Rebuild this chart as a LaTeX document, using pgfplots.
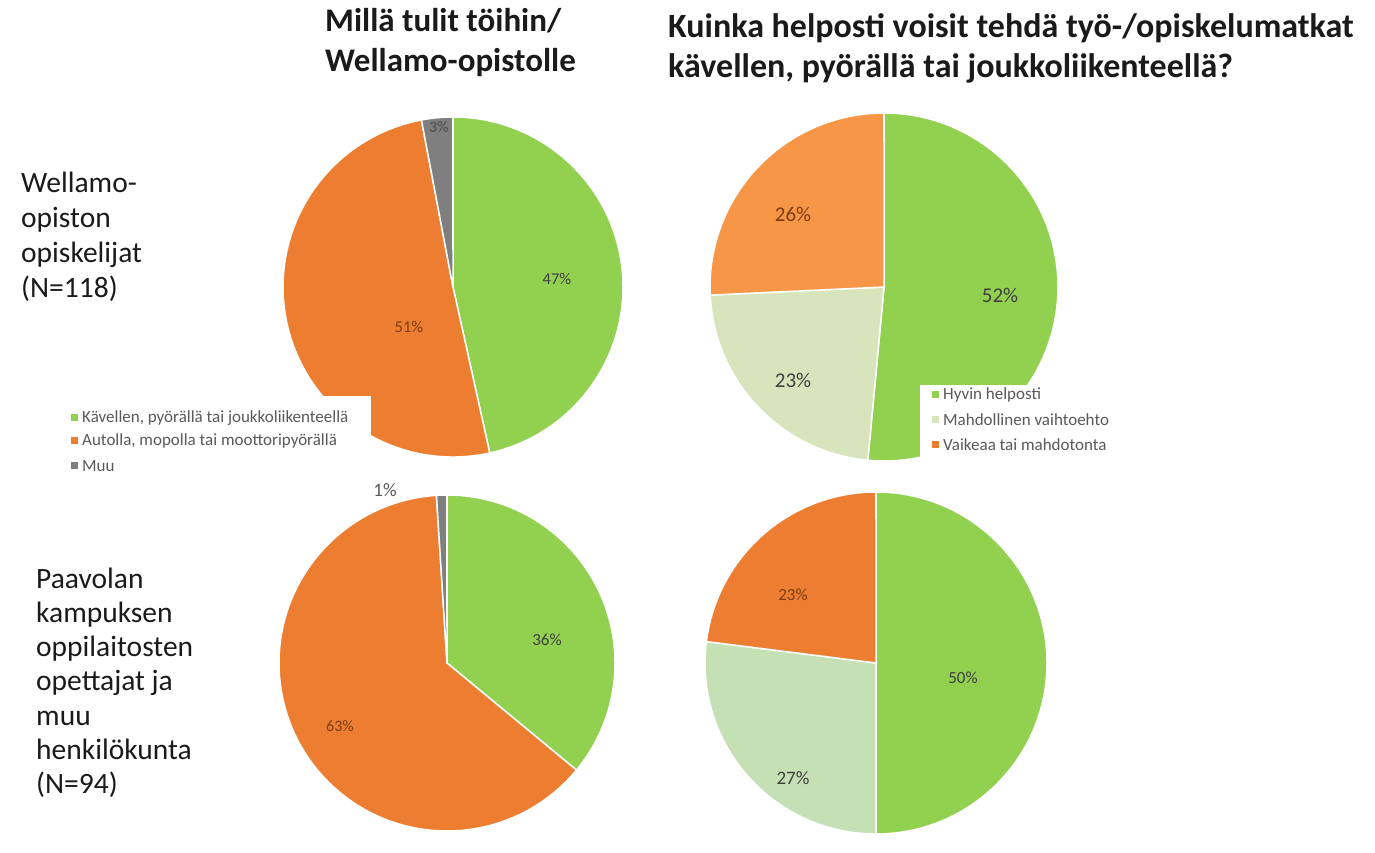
\documentclass[border=0pt]{standalone}
\usepackage{pgfplots}
\pgfplotsset{compat=1.18}
\usepackage{fontspec}
\setmainfont{Carlito}
\definecolor{cgreen}{HTML}{92D050}
\definecolor{corange}{HTML}{ED7D31}
\definecolor{cgrey}{HTML}{7F7F7F}
\definecolor{cltorange}{HTML}{F79646}
\definecolor{cltgreenA}{HTML}{D8E4BC}
\definecolor{cltgreenB}{HTML}{C5E0B4}
\definecolor{legtext}{HTML}{595959}
\definecolor{lblgreen}{HTML}{404040}
\definecolor{lblorange}{HTML}{7A3E12}
\definecolor{txt}{HTML}{1A1A1A}

% #1 cx, #2 cy, #3 radius, #4 list value/colour (clockwise from 12 o'clock)
\newcommand\piechart[4]{%
  \gdef\pietotal{0}%
  \foreach \v/\c in {#4}{\pgfmathparse{\pietotal+\v}\xdef\pietotal{\pgfmathresult}}%
  \gdef\pieangle{90}%
  \foreach \v/\c in {#4}{%
    \pgfmathsetmacro\pieend{\pieangle-\v/\pietotal*360}%
    \edef\temp{\noexpand\fill[\c,draw=white,line width=1.5pt,line join=round] (axis cs:#1,#2) -- ++(\pieangle:#3pt) arc[start angle=\pieangle,end angle=\pieend,radius=#3pt] -- cycle;}%
    \temp
    \xdef\pieangle{\pieend}%
  }%
}

\begin{document}
\begin{tikzpicture}
\begin{axis}[width=1375pt,height=835pt,scale only axis,
  xmin=0,xmax=1375,ymin=0,ymax=835,enlargelimits=false,
  hide axis,clip=false]
\path (axis cs:0,0) rectangle (axis cs:1375,835);

% ---- pies ----
\piechart{453}{548}{170}{47/cgreen,51/corange,3/cgrey}
\piechart{884}{548}{174}{52/cgreen,23/cltgreenA,26/cltorange}
\piechart{447}{172}{168}{36/cgreen,63/corange,1/cgrey}
\piechart{876}{172}{171}{50/cgreen,27/cltgreenB,23/corange}

% ---- data labels ----
\node[font=\fontsize{16.5}{18}\selectfont,text=lblgreen] at (axis cs:557,556) {47\%};
\node[font=\fontsize{16.5}{18}\selectfont,text=lblorange] at (axis cs:409,508) {51\%};
\node[font=\fontsize{16}{18}\selectfont\bfseries,text=legtext] at (axis cs:439,708) {3\%};

\node[font=\fontsize{21}{23}\selectfont,text=lblgreen] at (axis cs:1000,540) {52\%};
\node[font=\fontsize{21}{23}\selectfont,text=lblgreen] at (axis cs:793,455) {23\%};
\node[font=\fontsize{21}{23}\selectfont,text=lblorange] at (axis cs:793,621) {26\%};

\node[font=\fontsize{17}{19}\selectfont,text=lblgreen] at (axis cs:547,195) {36\%};
\node[font=\fontsize{16}{18}\selectfont,text=lblorange] at (axis cs:340,109) {63\%};
\node[font=\fontsize{19}{21}\selectfont,text=legtext] at (axis cs:385,345) {1\%};

\node[font=\fontsize{17}{19}\selectfont,text=lblgreen] at (axis cs:963,157) {50\%};
\node[font=\fontsize{19}{21}\selectfont,text=lblgreen] at (axis cs:793,57) {27\%};
\node[font=\fontsize{17}{19}\selectfont,text=lblorange] at (axis cs:793,240) {23\%};

% ---- legend top-left ----
\fill[white] (axis cs:55,351) rectangle (axis cs:371,439);
\node[fill=cgreen,minimum size=7pt,inner sep=0pt] at (axis cs:74,417) {};
\node[fill=corange,minimum size=7pt,inner sep=0pt] at (axis cs:74,394) {};
\node[fill=cgrey,minimum size=7pt,inner sep=0pt] at (axis cs:74,369) {};
\node[anchor=west,inner sep=0pt,font=\fontsize{17}{19}\selectfont,text=legtext] at (axis cs:82,417) {Kävellen, pyörällä tai joukkoliikenteellä};
\node[anchor=west,inner sep=0pt,font=\fontsize{17}{19}\selectfont,text=legtext] at (axis cs:82,394) {Autolla, mopolla tai moottoripyörällä};
\node[anchor=west,inner sep=0pt,font=\fontsize{17}{19}\selectfont,text=legtext] at (axis cs:82,369) {Muu};

% ---- legend top-right ----
\fill[white] (axis cs:920,375) rectangle (axis cs:1118,450);
\node[fill=cgreen,minimum size=7pt,inner sep=0pt] at (axis cs:935,440) {};
\node[fill=cltgreenA,minimum size=7pt,inner sep=0pt] at (axis cs:935,415) {};
\node[fill=corange,minimum size=7pt,inner sep=0pt] at (axis cs:935,390) {};
\node[anchor=west,inner sep=0pt,font=\fontsize{17}{19}\selectfont,text=legtext] at (axis cs:943,440) {Hyvin helposti};
\node[anchor=west,inner sep=0pt,font=\fontsize{17}{19}\selectfont,text=legtext] at (axis cs:943,415) {Mahdollinen vaihtoehto};
\node[anchor=west,inner sep=0pt,font=\fontsize{17}{19}\selectfont,text=legtext] at (axis cs:943,390) {Vaikeaa tai mahdotonta};

% ---- titles ----
\node[anchor=base west,inner sep=0pt,font=\fontsize{33}{40}\bfseries,text=txt] at (axis cs:325,803) {Millä tulit töihin/};
\node[anchor=base west,inner sep=0pt,font=\fontsize{33}{40}\bfseries,text=txt] at (axis cs:325,763) {Wellamo-opistolle};
\node[anchor=base west,inner sep=0pt,font=\fontsize{34}{40}\bfseries,text=txt] at (axis cs:668,797) {Kuinka helposti voisit tehdä työ-/opiskelumatkat};
\node[anchor=base west,inner sep=0pt,font=\fontsize{34}{40}\bfseries,text=txt] at (axis cs:668,757) {kävellen, pyörällä tai joukkoliikenteellä?};

% ---- row labels ----
\foreach \t [count=\i from 0] in {Wellamo-,opiston,opiskelijat,(N=118)}{
  \edef\temp{\noexpand\node[anchor=base west,inner sep=0pt,font=\noexpand\fontsize{29.5}{34}\noexpand\selectfont,text=txt] at (axis cs:21,{642-35*\i}) {\t};}\temp
}
\foreach \t [count=\i from 0] in {Paavolan,kampuksen,oppilaitosten,opettajat ja,muu,henkilökunta,(N=94)}{
  \edef\temp{\noexpand\node[anchor=base west,inner sep=0pt,font=\noexpand\fontsize{29.5}{34}\noexpand\selectfont,text=txt] at (axis cs:36,{247-34.3*\i}) {\t};}\temp
}
\end{axis}
\end{tikzpicture}
\end{document}
